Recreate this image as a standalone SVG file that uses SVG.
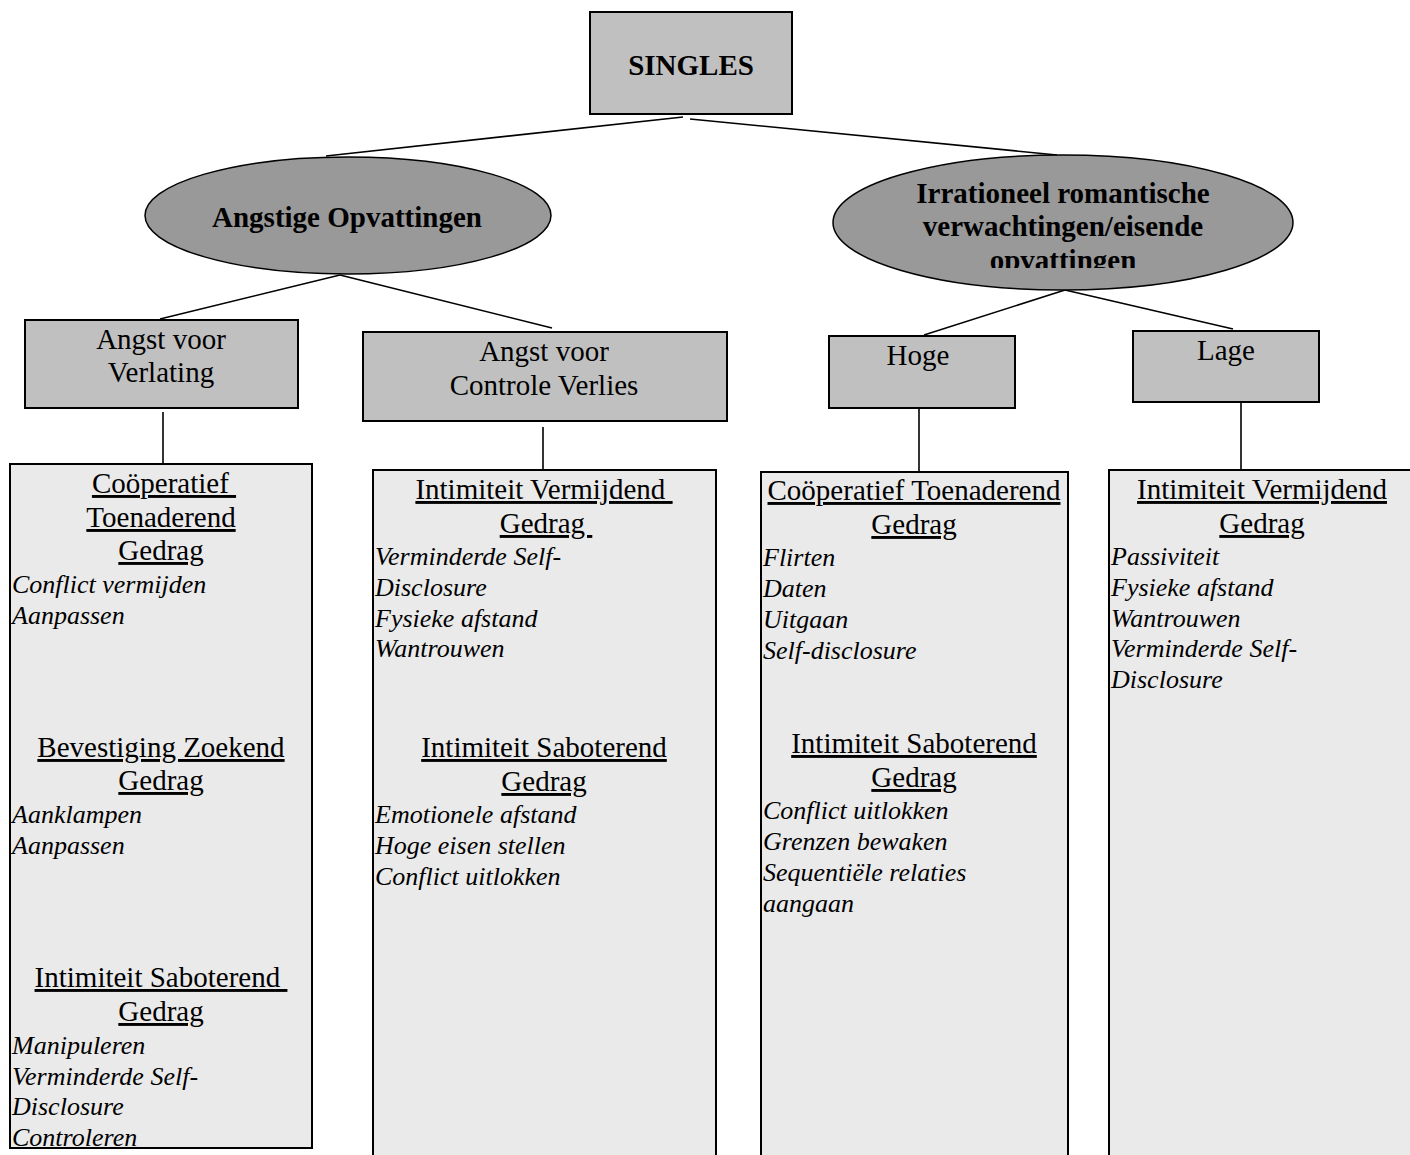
<svg xmlns="http://www.w3.org/2000/svg" width="1410" height="1155" viewBox="0 0 1410 1155">
<style>
.bg{fill:#ffffff}
.box{fill:#c0c0c0;stroke:#000;stroke-width:2}
.ell{fill:#999999;stroke:#000;stroke-width:1.5}
.panel{fill:#eaeaea;stroke:#000;stroke-width:2}
.conn line{stroke:#000;stroke-width:1.6}
text{font-family:"Liberation Serif","Times New Roman",serif;fill:#000;white-space:pre}
.lbl{font-size:29px;text-anchor:middle}
.bold{font-size:29px;font-weight:bold;text-anchor:middle}
.hd{font-size:29px;text-anchor:middle;text-decoration:underline}
.it{font-size:26px;font-style:italic}
</style>
<defs>
<clipPath id="clipR"><rect x="830" y="150" width="470" height="118"/></clipPath>
</defs>
<rect class="bg" x="0" y="0" width="1410" height="1155"/>
<g id="connectors" class="conn">
<line x1="683" y1="117" x2="326" y2="156"/>
<line x1="690" y1="119" x2="1057" y2="155"/>
<line x1="340" y1="275" x2="160" y2="319"/>
<line x1="340" y1="275" x2="552" y2="328"/>
<line x1="1065" y1="290" x2="924" y2="335"/>
<line x1="1065" y1="290" x2="1233" y2="329"/>
<line x1="163" y1="412" x2="163" y2="464"/>
<line x1="543" y1="427" x2="543" y2="470"/>
<line x1="919" y1="409" x2="919" y2="472"/>
<line x1="1241" y1="403" x2="1241" y2="470"/>
</g>
<g id="singles">
<rect class="box" x="590" y="12" width="202" height="102"/>
<text class="bold" x="691" y="75">SINGLES</text>
</g>
<g id="angstige">
<ellipse class="ell" cx="348" cy="215.5" rx="203" ry="58.5"/>
<text class="bold" x="347" y="227">Angstige Opvattingen</text>
</g>
<g id="irrationeel">
<ellipse class="ell" cx="1063" cy="222.5" rx="230" ry="67.5"/>
<g clip-path="url(#clipR)">
<text class="bold" x="1063" y="203">Irrationeel romantische</text>
<text class="bold" x="1063" y="236">verwachtingen/eisende</text>
<text class="bold" x="1063" y="270">opvattingen</text>
</g>
</g>
<g id="verlating">
<rect class="box" x="25" y="320" width="273" height="88"/>
<text class="lbl" x="161" y="349">Angst voor</text>
<text class="lbl" x="161" y="382">Verlating</text>
</g>
<g id="controle">
<rect class="box" x="363" y="332" width="364" height="89"/>
<text class="lbl" x="544" y="361">Angst voor</text>
<text class="lbl" x="544" y="395">Controle Verlies</text>
</g>
<g id="hoge">
<rect class="box" x="829" y="336" width="186" height="72"/>
<text class="lbl" x="918" y="365">Hoge</text>
</g>
<g id="lage">
<rect class="box" x="1133" y="331" width="186" height="71"/>
<text class="lbl" x="1226" y="360">Lage</text>
</g>
<g id="panel1">
<rect class="panel" x="10" y="464" width="302" height="684"/>
<text class="hd" x="164" y="493">Coöperatief </text>
<text class="hd" x="161" y="527">Toenaderend</text>
<text class="hd" x="161" y="560">Gedrag</text>
<text class="it" x="12" y="593">Conflict vermijden</text>
<text class="it" x="12" y="624">Aanpassen</text>
<text class="hd" x="161" y="757">Bevestiging Zoekend</text>
<text class="hd" x="161" y="790">Gedrag</text>
<text class="it" x="12" y="823">Aanklampen</text>
<text class="it" x="12" y="854">Aanpassen</text>
<text class="hd" x="161" y="987">Intimiteit Saboterend </text>
<text class="hd" x="161" y="1021">Gedrag</text>
<text class="it" x="12" y="1054">Manipuleren</text>
<text class="it" x="12" y="1085">Verminderde Self-</text>
<text class="it" x="12" y="1115">Disclosure</text>
<text class="it" x="12" y="1146">Controleren</text>
</g>
<g id="panel2">
<rect class="panel" x="373" y="470" width="343" height="700"/>
<text class="hd" x="544" y="499">Intimiteit Vermijdend </text>
<text class="hd" x="546" y="533">Gedrag </text>
<text class="it" x="375" y="565">Verminderde Self-</text>
<text class="it" x="375" y="596">Disclosure</text>
<text class="it" x="375" y="627">Fysieke afstand</text>
<text class="it" x="375" y="657">Wantrouwen</text>
<text class="hd" x="544" y="757">Intimiteit Saboterend</text>
<text class="hd" x="544" y="791">Gedrag</text>
<text class="it" x="375" y="823">Emotionele afstand</text>
<text class="it" x="375" y="854">Hoge eisen stellen</text>
<text class="it" x="375" y="885">Conflict uitlokken</text>
</g>
<g id="panel3">
<rect class="panel" x="761" y="472" width="307" height="700"/>
<text class="hd" x="914" y="500">Coöperatief Toenaderend</text>
<text class="hd" x="914" y="534">Gedrag</text>
<text class="it" x="763" y="566">Flirten</text>
<text class="it" x="763" y="597">Daten</text>
<text class="it" x="763" y="628">Uitgaan</text>
<text class="it" x="763" y="659">Self-disclosure</text>
<text class="hd" x="914" y="753">Intimiteit Saboterend</text>
<text class="hd" x="914" y="787">Gedrag</text>
<text class="it" x="763" y="819">Conflict uitlokken</text>
<text class="it" x="763" y="850">Grenzen bewaken</text>
<text class="it" x="763" y="881">Sequentiële relaties</text>
<text class="it" x="763" y="912">aangaan</text>
</g>
<g id="panel4">
<rect class="panel" x="1109" y="470" width="320" height="700"/>
<text class="hd" x="1262" y="499">Intimiteit Vermijdend</text>
<text class="hd" x="1262" y="533">Gedrag</text>
<text class="it" x="1111" y="565">Passiviteit</text>
<text class="it" x="1111" y="596">Fysieke afstand</text>
<text class="it" x="1111" y="627">Wantrouwen</text>
<text class="it" x="1111" y="657">Verminderde Self-</text>
<text class="it" x="1111" y="688">Disclosure</text>
</g>
</svg>
